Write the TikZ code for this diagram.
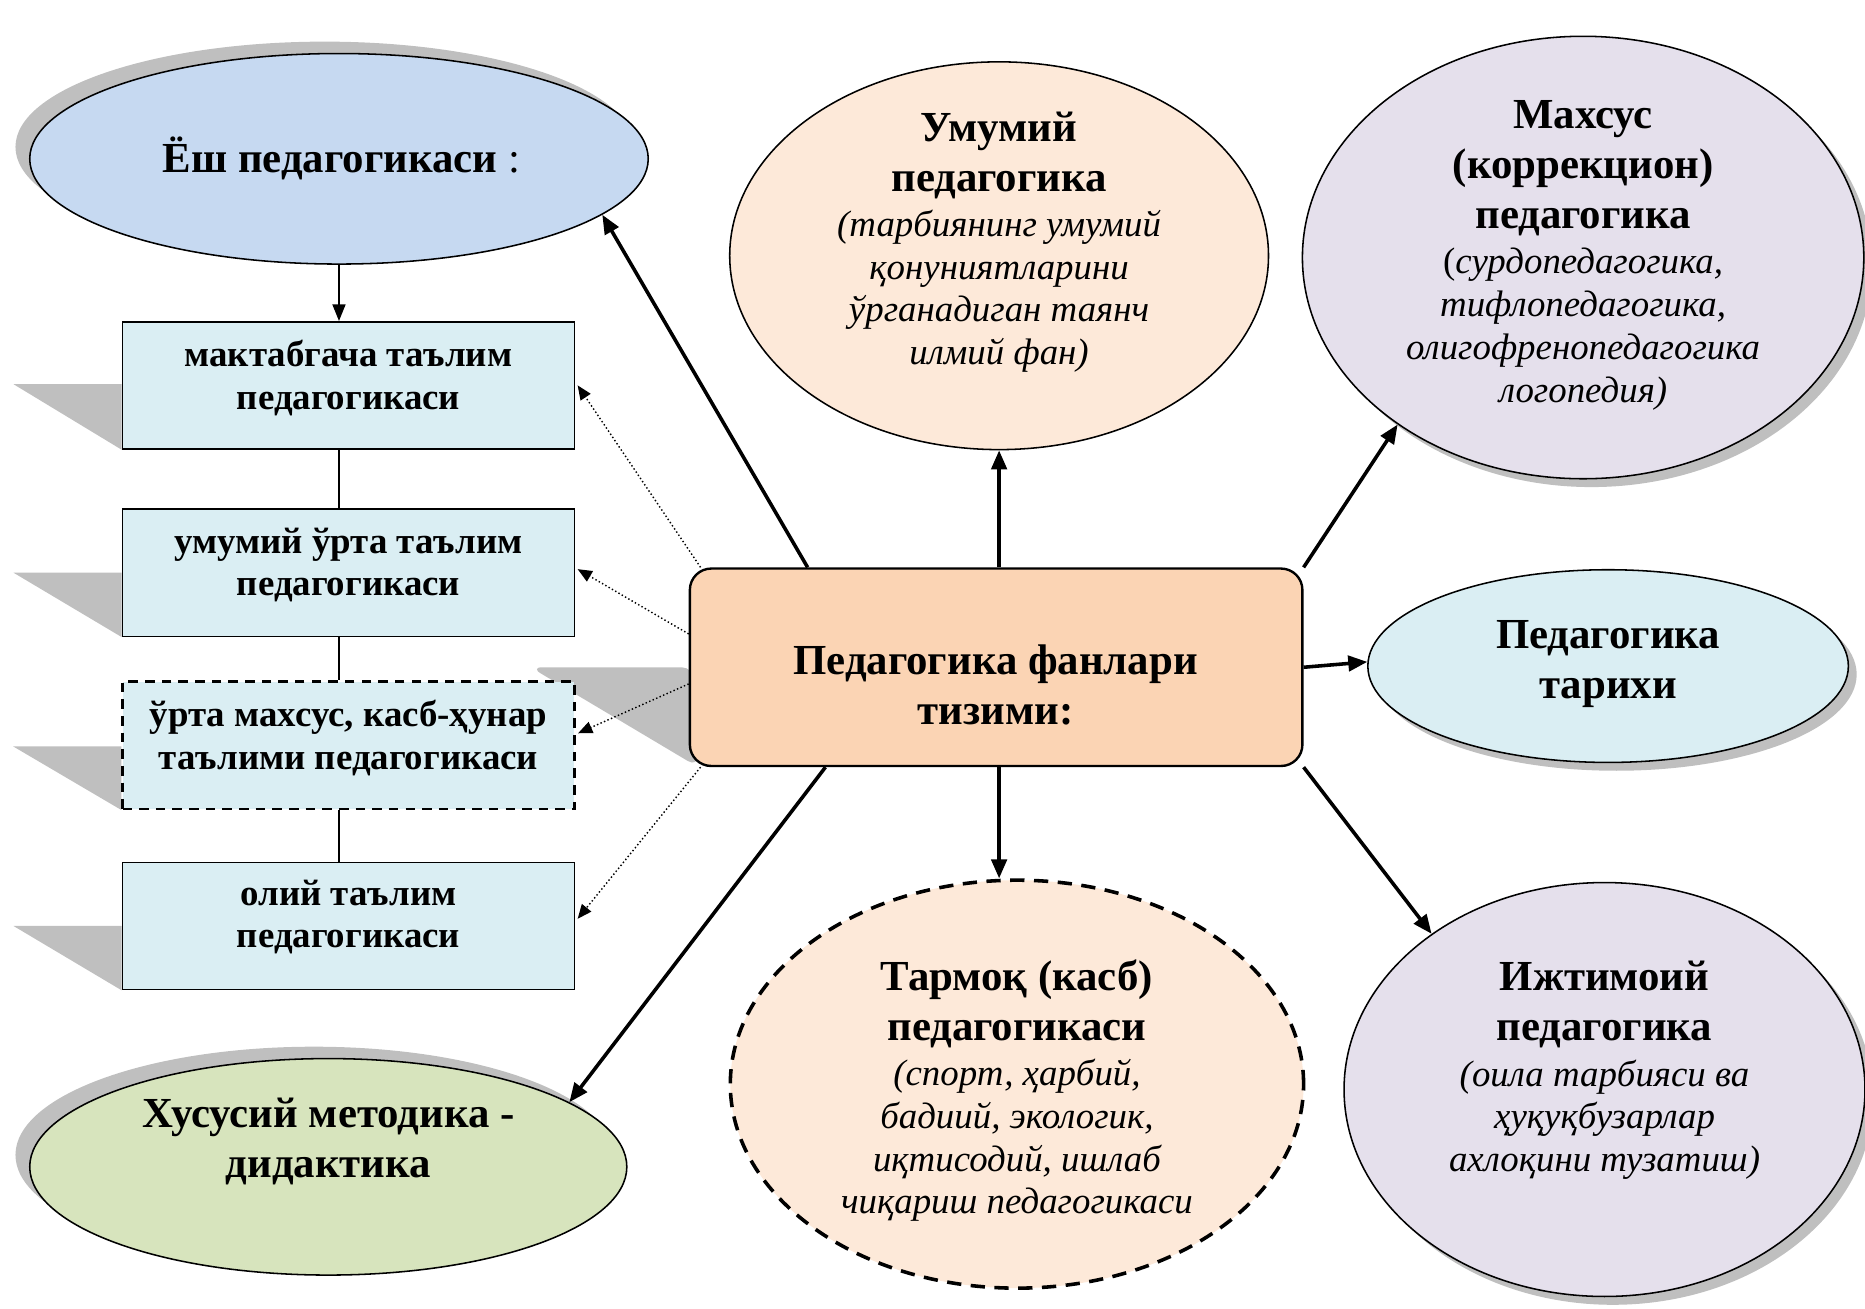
\documentclass[tikz,border=0pt]{standalone}
\usepackage{fontspec}
\setmainfont{Liberation Serif}
\usetikzlibrary{shapes.geometric,arrows.meta,shadows,backgrounds}
\definecolor{cYosh}{HTML}{C6D9F1}
\definecolor{cBox}{HTML}{DAEEF3}
\definecolor{cCtr}{HTML}{FBD4B4}
\definecolor{cUmum}{HTML}{FDE9D9}
\definecolor{cMax}{HTML}{E5E0EC}
\definecolor{cXus}{HTML}{D7E4BD}
\definecolor{cShadow}{HTML}{BFBFBF}
\newcommand\Bt[1]{{\fontsize{36}{42}\selectfont\bfseries\upshape #1}}
\begin{document}
\begin{tikzpicture}[x=1pt,y=-1pt,
  thinb/.style={draw=black,line width=1.3pt},
  ell/.style={ellipse,thinb,inner sep=0pt},
  sbox/.style={rectangle,thinb,fill=cBox,minimum width=380pt,minimum height=107pt,inner sep=0pt},
  shadowUL/.style={drop shadow={shadow xshift=-12pt,shadow yshift=10pt,fill=cShadow,opacity=1}},
  shadowDR/.style={drop shadow={shadow xshift=7pt,shadow yshift=-7pt,fill=cShadow,opacity=1}},
  big/.style={align=center,inner sep=0pt,font=\fontsize{36}{42}\selectfont\bfseries},
  txt/.style={align=center,inner sep=0pt,font=\fontsize{31}{36}\selectfont\itshape},
  boxtxt/.style={align=center,inner sep=0pt,font=\fontsize{31}{36}\selectfont\bfseries},
  arr/.style={line width=3pt,-{Triangle[length=16pt,width=13pt]}},
  thinarr/.style={line width=1.3pt,-{Triangle[length=14pt,width=11pt]}},
  dotarr/.style={line width=1.2pt,dash pattern=on 1.2pt off 2pt,-{Triangle[length=12pt,width=10pt]}},
]
\useasboundingbox (0,0) rectangle (1568,1100);

% left column
\node[ell,fill=cYosh,minimum width=520pt,minimum height=177pt,shadowUL] (yosh) at (285,133.5) {};
\node[sbox] (b1) at (293,324) {};
\node[sbox] (b2) at (293,481.5) {};
\node[sbox,dashed,dash pattern=on 8pt off 6pt,line width=2pt] (b3) at (293,626.5) {};
\node[sbox] (b4) at (293,778.5) {};
\node[ell,fill=cXus,minimum width=502pt,minimum height=182pt,shadowUL] (xus) at (276,981) {};

% centre
\node[rectangle,rounded corners=18pt,draw=black,line width=2pt,fill=cCtr,minimum width=515pt,minimum height=166pt] (ctr) at (837.5,561) {};

% right and middle ellipses
\node[ell,fill=cUmum,minimum width=453pt,minimum height=326pt] (umum) at (840,215) {};
\node[ell,fill=cMax,minimum width=472pt,minimum height=372pt,shadowDR] (maxs) at (1331,216.5) {};
\node[ell,fill=cBox,minimum width=404pt,minimum height=162pt,shadowDR] (tarix) at (1352,560) {};
\node[ell,fill=cMax,minimum width=438pt,minimum height=348pt,shadowDR] (ijt) at (1349,916) {};
\node[ell,fill=cUmum,dash pattern=on 12pt off 8pt,line width=3pt,minimum width=482pt,minimum height=343pt] (tarm) at (855,911.5) {};

% shadows of boxes
\begin{scope}[on background layer]
  \fill[cShadow] ([xshift=-91pt,yshift=1pt]b1.west) -- ([yshift=1pt]b1.west) -- (b1.south west) -- cycle;
  \fill[cShadow] ([xshift=-91pt]b2.west) -- (b2.west) -- (b2.south west) -- cycle;
  \fill[cShadow] ([xshift=-91pt,yshift=-1pt]b3.west) -- ([yshift=-1pt]b3.west) -- (b3.south west) -- cycle;
  \fill[cShadow] ([xshift=-91pt]b4.west) -- (b4.west) -- (b4.south west) -- cycle;
  \fill[cShadow,rounded corners=10pt] ([xshift=-133pt]ctr.west) -- ([xshift=4pt]ctr.west) -- ([xshift=8pt]ctr.south west) -- cycle;
\end{scope}

% texts
\node[big] (yoshT) at (287,133) {Ёш педагогикаси\mdseries\ :};
\node[boxtxt] (b1t) at (293,318) {мактабгача таълим\\педагогикаси};
\node[boxtxt] (b2t) at (293,475) {умумий ўрта таълим\\педагогикаси};
\node[boxtxt] (b3t) at (293,620.5) {ўрта махсус, касб-ҳунар\\таълими педагогикаси};
\node[boxtxt] (b4t) at (293,771) {олий таълим\\педагогикаси};
\node[big] (xusT) at (276,959.5) {Хусусий методика -\\дидактика};
\node[big] (ctrT) at (837,576) {Педагогика фанлари\\тизими:};
\node[txt] (umumT) at (840,203.5) {\Bt{Умумий}\\[6pt]\Bt{педагогика}\\[2pt](тарбиянинг умумий\\қонуниятларини\\ўрганадиган таянч\\илмий фан)};
\node[txt] (maxsT) at (1331,214.5) {\Bt{Махсус}\\[6pt]\Bt{(коррекцион)}\\[6pt]\Bt{педагогика}\\[2pt]{\upshape(}сурдопедагогика,\\тифлопедагогика,\\олигофренопедагогика\\логопедия)};
\node[big] (tarixT) at (1352,558) {Педагогика\\тарихи};
\node[txt] (ijtT) at (1349,900) {\Bt{Ижтимоий}\\[6pt]\Bt{педагогика}\\[2pt](оила тарбияси ва\\ҳуқуқбузарлар\\ахлоқини тузатиш)};
\node[txt] (tarmT) at (855,917) {\Bt{Тармоқ (касб)}\\[6pt]\Bt{педагогикаси}\\[2pt](спорт, ҳарбий,\\бадиий, экологик,\\иқтисодий, ишлаб\\чиқариш педагогикаси};

% left column connectors
\draw[thinarr] (yosh.south) -- (yosh.south |- b1.north);
\draw[thinb] (yosh.south |- b1.south) -- (yosh.south |- b2.north);
\draw[thinb] (yosh.south |- b2.south) -- (yosh.south |- b3.north);
\draw[thinb] (yosh.south |- b3.south) -- (yosh.south |- b4.north);

% dotted connectors
\draw[dotarr] ([xshift=10pt]ctr.north west) -- ([xshift=2pt]b1.east);
\draw[dotarr] ([yshift=28pt]ctr.west) -- ([xshift=2pt,yshift=3pt]b2.east);
\draw[dotarr] ([yshift=-14pt]ctr.west) -- ([xshift=2pt,yshift=10pt]b3.east);
\draw[dotarr] ([xshift=10pt]ctr.south west) -- ([xshift=2pt,yshift=6pt]b4.east);

% thick connectors
\draw[arr] ([xshift=100pt]ctr.north west) -- (yosh.-12);
\draw[arr] (umum.south |- ctr.north) -- (umum.south);
\draw[arr] (ctr.north east) -- (maxs.222);
\draw[arr] (ctr.east) -- (tarix.179);
\draw[arr] (ctr.south east) -- (ijt.138);
\draw[arr] (umum.south |- ctr.south) -- (umum.south |- tarm.north);
\draw[arr] ([xshift=115pt]ctr.south west) -- (xus.15);
\end{tikzpicture}
\end{document}
